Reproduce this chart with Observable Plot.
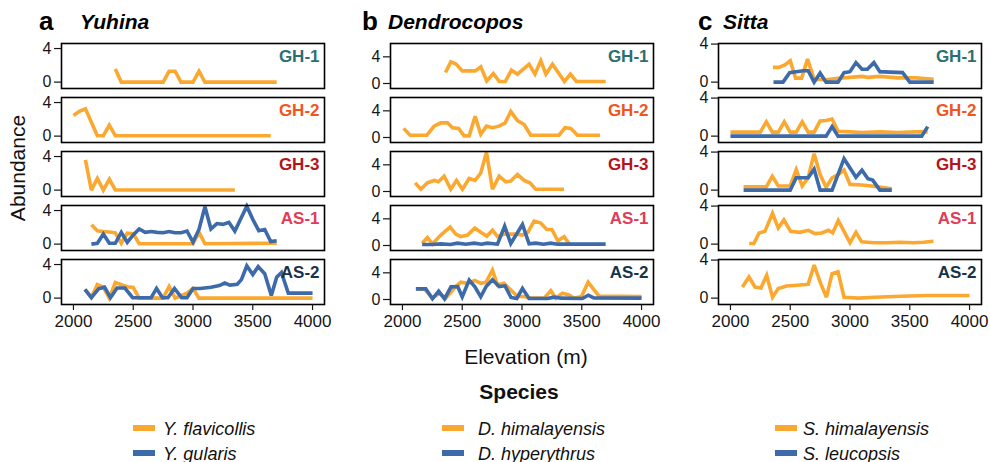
<!DOCTYPE html>
<html><head><meta charset="utf-8">
<script src="https://cdn.jsdelivr.net/npm/d3@7"></script>
<script src="https://cdn.jsdelivr.net/npm/@observablehq/plot@0.6"></script>
<style>
body{margin:0;background:#fff;}
#wrap{position:relative;width:990px;height:462px;overflow:hidden;font-family:"Liberation Sans",Arial,Helvetica,sans-serif;}
#wrap svg.col{position:absolute;top:0;}
#overlay{position:absolute;left:0;top:0;pointer-events:none;}
</style></head>
<body><div id="wrap"></div>
<script>
// ---------- categories / ticks ----------
const rows = ["GH-1","GH-2","GH-3","AS-1","AS-2"];
const genera = ["Yuhina","Dendrocopos","Sitta"];
const panelLetters = ["a","b","c"];
const elevTicks = [2000,2500,3000,3500,4000];
const abundanceTicks = [0,4];
const speciesOrange = ["Y. flavicollis","D. himalayensis","S. himalayensis"];
const speciesBlue = ["Y. gularis","D. hyperythrus","S. leucopsis"];

// ---------- Yuhina ----------
const yuGH1_flav = [[2350,1.55],[2400,0],[2750,0],[2800,1.3],[2850,1.3],[2900,0],[3000,0],[3050,1.3],[3100,0],[3700,0]];
const yuGH2_flav = [[2000,2.45],[2050,2.95],[2100,3.25],[2200,0.05],[2250,0.05],[2300,1.3],[2350,0.05],[3650,0.05]];
const yuGH3_flav = [[2100,3.6],[2150,0],[2200,1.4],[2250,0],[2300,1.3],[2350,0.02],[3350,0.02]];
const yuAS1_flav = [[2150,2.3],[2200,1.6],[2250,1.5],[2300,1.45],[2350,1.35],[2400,0.1],[2450,1.3],[2500,1.25],[2550,0.05],[3000,0.05],[3050,1.4],[3100,0.05],[3700,0.1]];
const yuAS1_gul = [[2150,0],[2200,0.1],[2250,1.2],[2300,0.1],[2350,0.1],[2400,1.4],[2450,0.2],[2500,1.1],[2550,1.8],[2600,1.4],[2650,1.5],[2700,1.4],[2750,1.35],[2800,1.5],[2850,1.35],[2900,1.35],[2950,1.55],[3000,0.25],[3050,1.75],[3100,4.45],[3150,1.8],[3200,2.45],[3250,2.35],[3300,2.6],[3350,1.55],[3450,4.5],[3500,2.95],[3550,1.6],[3600,1.75],[3650,0.3],[3700,0.4]];
const yuAS2_flav = [[2100,1.0],[2150,0.1],[2200,1.6],[2250,1.3],[2300,0],[2350,1.85],[2400,1.6],[2450,1.35],[2500,1.28],[2550,0],[2750,0],[2800,1.4],[2850,0],[2950,0.6],[3000,1.15],[3050,0],[4000,0]];
const yuAS2_gul = [[2095,1.05],[2150,0.05],[2210,1.1],[2260,1.3],[2310,0.05],[2365,1.2],[2430,1.2],[2495,0.05],[2650,0.05],[2695,1.15],[2745,0.05],[2790,0.05],[2845,1.15],[2905,0.05],[2950,0.05],[3000,1.15],[3060,1.15],[3150,1.3],[3220,1.5],[3265,1.8],[3310,1.55],[3370,1.65],[3405,2.2],[3450,3.85],[3500,2.8],[3545,3.75],[3600,2.9],[3655,0.3],[3700,2.5],[3740,3.05],[3797,0.6],[4000,0.6]];

// ---------- Dendrocopos ----------
const deGH1_him = [[2360,1.65],[2405,3.25],[2450,2.9],[2500,1.9],[2610,1.9],[2655,2.5],[2705,0.4],[2760,1.5],[2810,0.3],[2860,0.3],[2912,2.0],[2962,1.4],[3059,2.9],[3108,1.4],[3157,3.4],[3200,1.4],[3255,2.9],[3355,0.3],[3405,1.4],[3455,0.3],[3700,0.3]];
const deGH2_him = [[2010,1.37],[2064,0.34],[2204,0.34],[2265,1.7],[2321,2.2],[2377,2.2],[2418,1.46],[2469,1.37],[2516,0.24],[2558,0.24],[2608,3.17],[2655,0.49],[2703,1.7],[2753,1.46],[2809,1.7],[2859,2.2],[2906,3.9],[2962,2.54],[3018,1.95],[3073,0.34],[3310,0.34],[3360,1.46],[3408,1.37],[3464,0.34],[3653,0.34]];
const deGH3_him = [[2106,1.3],[2154,0.34],[2209,1.3],[2265,1.66],[2301,1.46],[2349,2.3],[2404,0.34],[2452,1.66],[2502,0.34],[2558,1.95],[2608,1.66],[2655,2.78],[2703,5.9],[2753,0.34],[2809,2.3],[2864,1.46],[2906,1.56],[2962,2.54],[3018,1.66],[3065,1.3],[3115,0.34],[3352,0.34]];
const deAS1_him = [[2165,0.35],[2209,1.2],[2251,0.24],[2321,1.56],[2399,2.75],[2446,1.7],[2488,1.32],[2544,1.56],[2605,2.6],[2661,1.9],[2706,1.41],[2753,2.3],[2795,1.32],[2850,1.7],[2906,1.7],[2962,1.7],[3004,1.56],[3050,2.0],[3101,3.66],[3157,3.37],[3207,2.4],[3250,2.4],[3300,0.7],[3352,1.32],[3397,0.2]];
const deAS1_hyp = [[2165,0.15],[2250,0.15],[2320,0.25],[2400,0.15],[2460,0.35],[2530,0.2],[2600,0.35],[2660,0.2],[2710,0.35],[2795,0.2],[2855,2.9],[2906,0.3],[3004,3.15],[3059,0.25],[3115,0.35],[3180,0.2],[3241,0.35],[3296,0.2],[3700,0.2]];
const deAS2_him = [[2120,1.6],[2182,1.6],[2251,0.2],[2307,0.94],[2363,0.2],[2432,1.68],[2488,2.6],[2544,2.42],[2605,2.85],[2655,2.42],[2700,2.6],[2753,4.4],[2795,2.17],[2850,2.42],[2920,1.19],[2962,0.44],[3018,0.44],[3073,0.2],[3185,0.2],[3241,1.33],[3283,0.2],[3338,0.94],[3394,0.69],[3436,0.2],[3497,0.44],[3553,2.6],[3603,1.43],[3645,0.5],[4000,0.44]];
const deAS2_hyp = [[2112,1.6],[2195,1.6],[2251,0.1],[2303,1.25],[2352,0.1],[2406,1.9],[2462,1.95],[2500,0.4],[2558,2.9],[2606,1.9],[2655,0.4],[2700,1.95],[2753,2.95],[2809,1.95],[2858,2.05],[2908,0.3],[2956,0.15],[3004,1.65],[3059,0.15],[3213,0.15],[3269,0.35],[3330,0.2],[3505,0.15],[3555,0.65],[3600,0.25],[4000,0.2]];

// ---------- Sitta ----------
const siGH1_him = [[2355,1.55],[2405,1.55],[2455,1.8],[2500,2.25],[2545,0.42],[2595,0.42],[2645,2.42],[2700,0.3],[2800,0.25],[2900,0.4],[3000,0.5],[3100,0.6],[3150,0.5],[3250,0.6],[3400,0.45],[3550,0.45],[3700,0.3]];
const siGH1_leu = [[2360,0],[2440,0],[2495,1.0],[2550,1.1],[2610,1.2],[2650,1.2],[2700,0],[2750,0.95],[2800,0],[2900,0],[2950,1.0],[3000,1.1],[3050,2.05],[3100,1.35],[3145,1.35],[3200,2.05],[3250,1.1],[3335,1.05],[3440,1.0],[3500,0],[3700,0]];
const siGH2_him = [[2000,0.42],[2250,0.42],[2300,1.5],[2350,0.42],[2400,0.42],[2450,1.5],[2500,0.42],[2550,0.42],[2600,1.5],[2650,0.42],[2700,0.42],[2750,1.6],[2800,1.65],[2850,1.8],[2900,0.5],[3000,0.45],[3100,0.38],[3250,0.45],[3400,0.38],[3550,0.45],[3650,0.45]];
const siGH2_leu = [[2000,0],[2800,0],[2850,1.0],[2900,0],[3600,0],[3650,1.0]];
const siGH3_him = [[2110,0.34],[2300,0.34],[2350,1.46],[2400,0.44],[2500,0.44],[2550,2.14],[2600,0.44],[2650,1.3],[2700,3.83],[2750,1.63],[2800,0.3],[2850,1.3],[2900,1.63],[2950,2.1],[3000,0.6],[3100,0.54],[3200,0.4],[3350,0.15]];
const siGH3_leu = [[2110,0],[2500,0],[2550,1.3],[2600,1.3],[2650,1.3],[2700,2.2],[2750,0],[2850,0],[2950,3.3],[3050,1.35],[3100,2.1],[3150,1.2],[3190,1.05],[3250,0],[3350,0]];
const siAS1_him = [[2157,0.07],[2196,0.07],[2240,1.17],[2288,1.34],[2352,3.24],[2400,1.69],[2447,2.55],[2503,1.34],[2581,1.24],[2651,1.45],[2707,1.1],[2763,1.17],[2819,1.45],[2855,1.17],[2902,2.48],[2950,1.34],[3000,0.14],[3050,1.24],[3098,0.24],[3196,0.14],[3307,0.14],[3419,0.2],[3531,0.14],[3615,0.2],[3698,0.31]];
const siAS2_him = [[2100,1.17],[2155,2.23],[2205,1.17],[2255,1.06],[2303,2.4],[2352,0.1],[2400,1.0],[2470,1.27],[2560,1.35],[2650,1.45],[2700,3.47],[2755,1.52],[2803,0.1],[2850,2.58],[2900,2.76],[2950,0.1],[3070,0],[3208,0.1],[3430,0.2],[3653,0.28],[4000,0.28]];

// ---------- styling ----------
const ORANGE = "#fba830", BLUE = "#3d6aa8";
const rowColors = {"GH-1":"#2c6f71","GH-2":"#f2541e","GH-3":"#b3141c","AS-1":"#e13b58","AS-2":"#17324a"};
const FONT = '"Liberation Sans", Arial, Helvetica, sans-serif';

const columns = [
  {left: 0, yDomain: [-0.76, 4.6], series: [
    ["GH-1", yuGH1_flav, ORANGE], ["GH-2", yuGH2_flav, ORANGE], ["GH-3", yuGH3_flav, ORANGE],
    ["AS-1", yuAS1_flav, ORANGE], ["AS-2", yuAS2_flav, ORANGE],
    ["AS-1", yuAS1_gul, BLUE], ["AS-2", yuAS2_gul, BLUE]]},
  {left: 329, yDomain: [-0.75, 6.0], series: [
    ["GH-1", deGH1_him, ORANGE], ["GH-2", deGH2_him, ORANGE], ["GH-3", deGH3_him, ORANGE],
    ["AS-1", deAS1_him, ORANGE], ["AS-2", deAS2_him, ORANGE],
    ["AS-1", deAS1_hyp, BLUE], ["AS-2", deAS2_hyp, BLUE]]},
  {left: 657, yDomain: [-0.67, 4.06], series: [
    ["GH-1", siGH1_him, ORANGE], ["GH-2", siGH2_him, ORANGE], ["GH-3", siGH3_him, ORANGE],
    ["AS-1", siAS1_him, ORANGE], ["AS-2", siAS2_him, ORANGE],
    ["GH-1", siGH1_leu, BLUE], ["GH-2", siGH2_leu, BLUE], ["GH-3", siGH3_leu, BLUE]]}
];

const wrap = document.getElementById("wrap");

for (const col of columns) {
  const marks = [];
  for (const [row, data, color] of col.series) {
    marks.push(Plot.line(data, {
      x: d => d[0], y: d => d[1], fy: () => row,
      stroke: color, strokeWidth: 3.6, strokeLinejoin: "miter", strokeMiterlimit: 3, strokeLinecap: "butt"
    }));
  }
  for (const r of rows) {
    marks.push(Plot.text([r], {
      fy: d => d, text: d => d, frameAnchor: "top-right", dx: -5, dy: 13,
      fill: rowColors[r], fontWeight: "bold", fontSize: 17, textAnchor: "end", lineAnchor: "middle"
    }));
  }
  marks.push(Plot.frame({stroke: "#000", strokeWidth: 1.6}));
  marks.push(Plot.axisY({ticks: abundanceTicks, tickFormat: "d", tickSize: 7, tickPadding: 3, fontSize: 16, label: null, strokeWidth: 1.2, facetAnchor: "left"}));
  marks.push(Plot.axisX({ticks: elevTicks, tickFormat: "d", tickSize: 6, tickPadding: 4, fontSize: 17, label: null, strokeWidth: 1.2, facetAnchor: "bottom"}));

  const svg = Plot.plot({
    width: 330, height: 340,
    marginLeft: 61, marginRight: 6, marginTop: 43, marginBottom: 36,
    x: {domain: [1900, 4100]},
    y: {domain: col.yDomain},
    fy: {domain: rows, paddingInner: 9/54, paddingOuter: 0, axis: null, round: false},
    style: {background: "transparent", fontFamily: FONT, color: "#161616", overflow: "visible"},
    marks
  });
  svg.classList.add("col");
  svg.style.left = col.left + "px";
  wrap.appendChild(svg);
}

// ---------- overlay: titles, axis titles, legend ----------
const NS = "http://www.w3.org/2000/svg";
const ov = document.createElementNS(NS, "svg");
ov.setAttribute("id", "overlay");
ov.setAttribute("width", 990); ov.setAttribute("height", 462);
ov.style.fontFamily = FONT;
function txt(s, x, y, attrs) {
  const t = document.createElementNS(NS, "text");
  t.textContent = s;
  t.setAttribute("x", x); t.setAttribute("y", y);
  for (const k in attrs) t.setAttribute(k, attrs[k]);
  ov.appendChild(t);
  return t;
}
const letterX = [39, 362, 698], genusX = [80, 388, 723];
panelLetters.forEach((l, i) => {
  txt(l, letterX[i], 30, {"font-size": 26, "font-weight": "bold", fill: "#000"});
  txt(genera[i], genusX[i], 29, {"font-size": 21, "font-weight": "bold", "font-style": "italic", fill: "#000"});
});
txt("Abundance", 0, 0, {"font-size": 21, "text-anchor": "middle", fill: "#111", transform: "translate(25,168) rotate(-90)"});
txt("Elevation (m)", 526, 364, {"font-size": 21, "text-anchor": "middle", fill: "#111"});
txt("Species", 519, 399, {"font-size": 21, "font-weight": "bold", "text-anchor": "middle", fill: "#111"});
const swX = [133, 442, 775], labX = [163, 478, 803], rowY = [428, 453];
for (let i = 0; i < 3; i++) {
  [[speciesOrange[i], ORANGE], [speciesBlue[i], BLUE]].forEach(([name, c], j) => {
    const r = document.createElementNS(NS, "rect");
    r.setAttribute("x", swX[i]); r.setAttribute("y", rowY[j] - 3);
    r.setAttribute("width", 22); r.setAttribute("height", 6); r.setAttribute("fill", c);
    ov.appendChild(r);
    txt(name, labX[i], rowY[j] + 6.5, {"font-size": 18, "font-style": "italic", fill: "#111"});
  });
}
wrap.appendChild(ov);
</script>
</body></html>
